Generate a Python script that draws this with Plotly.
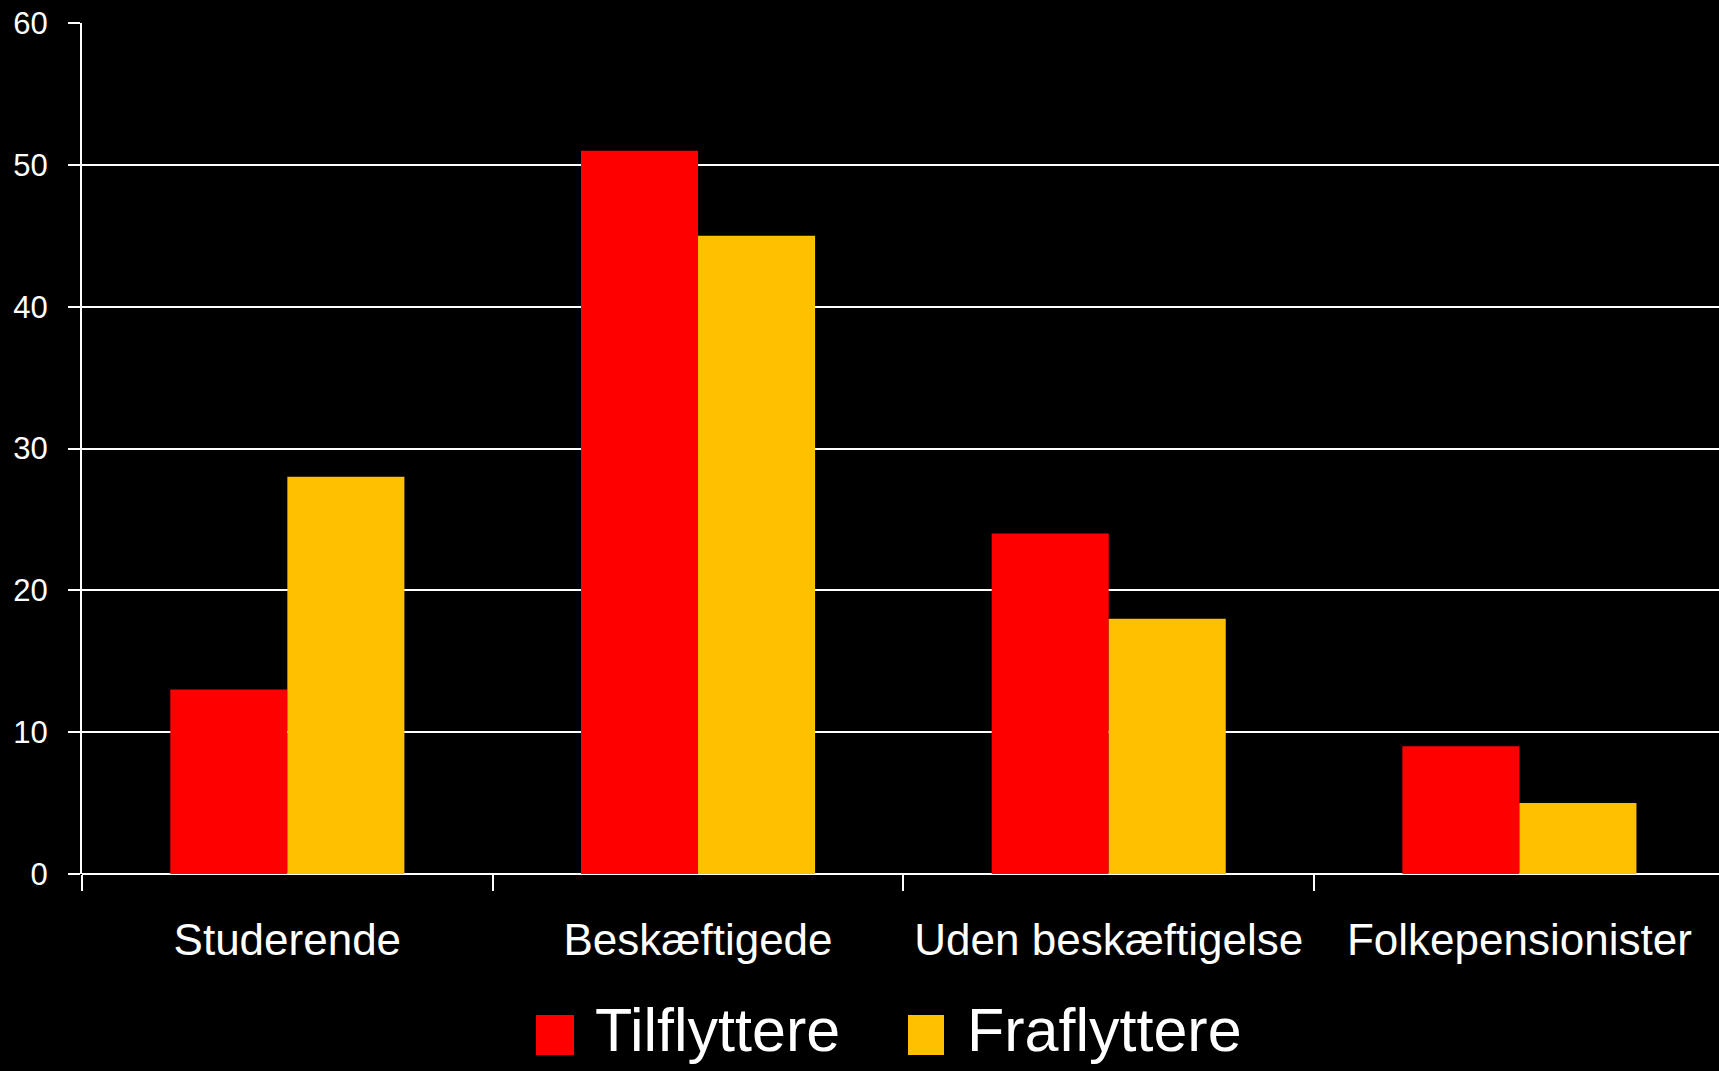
import plotly.graph_objects as go

categories = ["Studerende", "Beskæftigede", "Uden beskæftigelse", "Folkepensionister"]
series_names = ["Tilflyttere", "Fraflyttere"]
tilflyttere = [13, 51, 24, 9]
fraflyttere = [28, 45, 18, 5]
colors = ["#FF0000", "#FFC000"]
y_ticks = [0, 10, 20, 30, 40, 50, 60]

W, H = 1719, 1071
L, T, B = 82, 23, 197
PW = W - L
PH = H - T - B

FONT = "Liberation Sans, Arial, sans-serif"

fig = go.Figure()
for name, vals, col in zip(series_names, [tilflyttere, fraflyttere], colors):
    fig.add_trace(go.Bar(name=name, x=categories, y=vals, marker=dict(color=col, line=dict(width=0)),
                         showlegend=False))

def px_x(p):
    return (p - L) / PW

def px_y(p):
    return (H - B - p) / PH

# manual legend (large squares + text)
legend_items = [(series_names[0], colors[0], 536, 574, 593), (series_names[1], colors[1], 908, 944, 965)]
for name, col, x0, x1, tx in legend_items:
    fig.add_shape(type="rect", xref="paper", yref="paper",
                  x0=px_x(x0), x1=px_x(x1), y0=px_y(1055), y1=px_y(1015),
                  fillcolor=col, line=dict(width=0))
    fig.add_annotation(xref="paper", yref="paper", x=px_x(tx), y=px_y(1030),
                       xanchor="left", yanchor="middle", text=name, showarrow=False,
                       font=dict(family=FONT, size=61, color="white"))

fig.update_layout(
    width=W, height=H,
    paper_bgcolor="black", plot_bgcolor="black",
    margin=dict(l=L, r=0, t=T, b=B, pad=0, autoexpand=False),
    barmode="group", bargap=0.43, bargroupgap=0,
    font=dict(family=FONT, color="white"),
    xaxis=dict(
        type="category", range=[-0.5, 3.486], tickson="boundaries",
        ticks="outside", ticklen=16, tickwidth=1.5, tickcolor="white",
        showline=False, showgrid=False, zeroline=False, automargin=False,
        tickangle=0,
        tickfont=dict(family=FONT, size=44, color="white"),
        ticklabelstandoff=36,
    ),
    yaxis=dict(
        range=[0, 60], tickvals=y_ticks, ticktext=[str(v) for v in y_ticks],
        ticks="outside", ticklen=12, tickwidth=1.5, tickcolor="white",
        showline=True, linecolor="white", linewidth=2, automargin=False,
        showgrid=True, gridcolor="white", gridwidth=1.5,
        zeroline=True, zerolinecolor="white", zerolinewidth=2,
        tickfont=dict(family=FONT, size=31, color="white"),
        ticklabelstandoff=14,
    ),
)

fig.write_html("out.html", config={"displayModeBar": False},
               post_script="document.body.style.margin='0';document.body.style.background='black';")
